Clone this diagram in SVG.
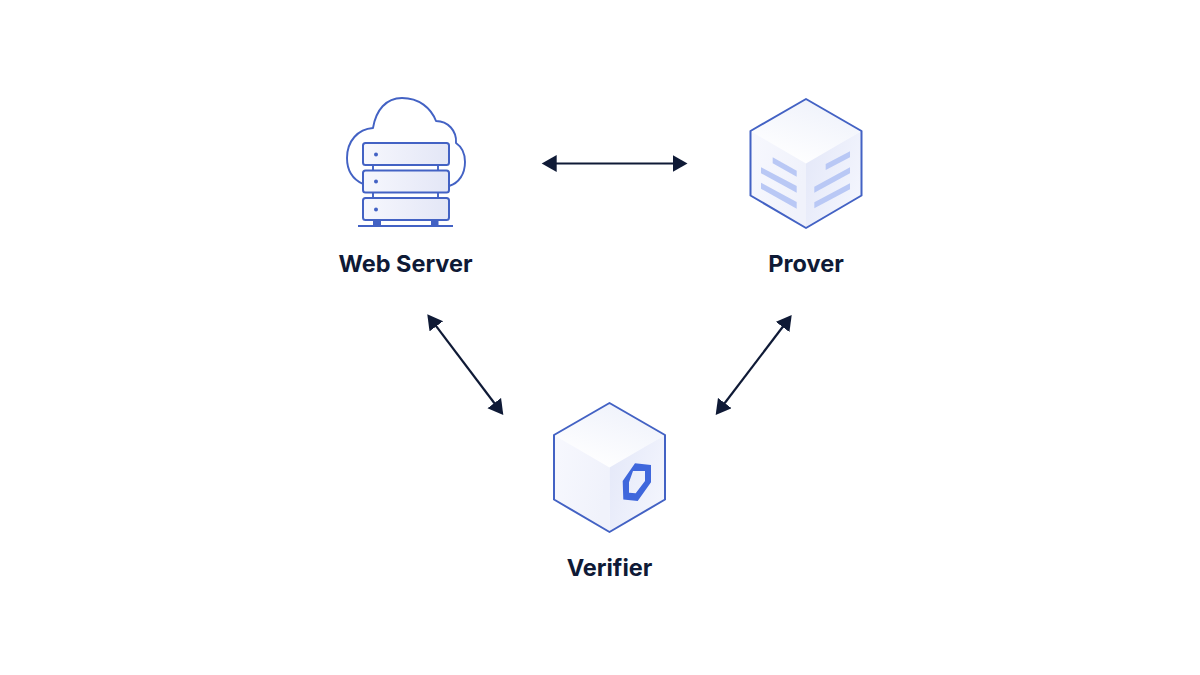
<svg xmlns="http://www.w3.org/2000/svg" width="1200" height="675" viewBox="0 0 1200 675">
<style>
.label{font-family:"Inter","Liberation Sans",sans-serif;font-weight:700;font-size:23.500px;fill:#0f1a36;text-anchor:middle}
.edge{fill:none;stroke:#4362c4;stroke-width:2;stroke-linejoin:round}
.rack{fill:url(#rackFill);stroke:#4362c4;stroke-width:2}
.thin{fill:none;stroke:#4362c4;stroke-width:1.900;stroke-linejoin:round}
.dot{fill:#4362c4}
.bar{fill:#b9c8f5}
.link{stroke:#0f1a36;stroke-width:2.200;fill:none;marker-start:url(#head);marker-end:url(#head)}
</style>
<defs>
<linearGradient id="rackFill" x1="0" y1="0" x2="1" y2="0"><stop offset="0" stop-color="#f6f7fd"/><stop offset="1" stop-color="#e3e6f6"/></linearGradient>
<linearGradient id="topFace" x1="0.75" y1="0.05" x2="0.25" y2="0.95"><stop offset="0" stop-color="#eff2fb"/><stop offset="1" stop-color="#ffffff"/></linearGradient>
<linearGradient id="leftFace" x1="0" y1="0" x2="1" y2="0.3"><stop offset="0" stop-color="#f7f8fe"/><stop offset="1" stop-color="#f0f2fb"/></linearGradient>
<linearGradient id="rightFace" x1="0" y1="0" x2="1" y2="0.6"><stop offset="0" stop-color="#e3e7f8"/><stop offset="1" stop-color="#f3f5fd"/></linearGradient>
<marker id="head" markerUnits="userSpaceOnUse" markerWidth="17" markerHeight="18" refX="10" refY="8.500" orient="auto-start-reverse"><path d="M0 0L15 8.500L0 17Z" fill="#0f1a36"/></marker>
<g id="cube">
<path d="M0 -64.500L55.500 -32.500L0 0L-55.500 -32.500Z" fill="url(#topFace)"/>
<path d="M-55.500 -32.500L0 0L0 64.500L-55.500 32L-55.500 -32.500Z" fill="url(#leftFace)"/>
<path d="M55.500 -32.500L0 0L0 64.500L55.500 32Z" fill="url(#rightFace)"/>
<path class="edge" d="M0 -64.500L55.500 -32.500L55.500 32L0 64.500L-55.500 32L-55.500 -32.500Z"/>
</g>
</defs>
<rect width="1200" height="675" fill="#ffffff"/>
<g id="connectors">
<line class="link" x1="546.700" y1="163.500" x2="682.500" y2="163.500"/>
<line class="link" x1="430.300" y1="318.300" x2="500.300" y2="411"/>
<line class="link" x1="788.700" y1="319" x2="718.700" y2="411"/>
</g>
<g id="web-server">
<path class="thin" d="M363 184C352 179 347 169 347 158C347 141 358 129 373 128C376 110 386 98 402 98C419 98 431 108 436 121C448 121 457 131 456 143C462 147 465 154 465 162C465 174 459 183 449 186"/>
<path class="thin" d="M373 165V170M438 165V170M373 192V198M438 192V198"/>
<rect class="rack" x="363" y="143" width="86" height="22" rx="2.500"/>
<rect class="rack" x="363" y="170.500" width="86" height="22" rx="2.500"/>
<rect class="rack" x="363" y="198" width="86" height="22" rx="2.500"/>
<circle class="dot" cx="376" cy="154.500" r="2"/>
<circle class="dot" cx="376" cy="181.500" r="2"/>
<circle class="dot" cx="376" cy="209.500" r="2"/>
<rect class="dot" x="373" y="220" width="8" height="6"/>
<rect class="dot" x="431" y="220" width="7.500" height="6"/>
<rect class="dot" x="358" y="225" width="95" height="2"/>
<text class="label" x="405.500" y="272">Web Server</text>
</g>
<g id="prover">
<use href="#cube" x="806" y="163.500"/>
<path class="bar" d="M772.700 157.300L796.700 170.700V176.700L772.700 163.300Z"/>
<path class="bar" d="M761 167.300L796.700 186V192.700L761 173.300Z"/>
<path class="bar" d="M761 182.700L796.700 202V208.700L761 188.700Z"/>
<path class="bar" d="M825.700 164L850 151.300V157.300L825.700 170Z"/>
<path class="bar" d="M814.300 186.700L850 167.300V173.300L814.300 192.700Z"/>
<path class="bar" d="M814.300 202.300L850 183.300V189.300L814.300 208.300Z"/>
<text class="label" x="806" y="272">Prover</text>
</g>
<g id="verifier">
<use href="#cube" x="609.500" y="467.500"/>
<path fill="#3f67dc" fill-rule="evenodd" d="M635 463.300L651 465V482.300L637.700 501L623.300 499.500L622.700 481ZM633 471L629 482.300V492.700L635.700 493.300L645 481V471Z"/>
<text class="label" x="609.500" y="576">Verifier</text>
</g>
</svg>
